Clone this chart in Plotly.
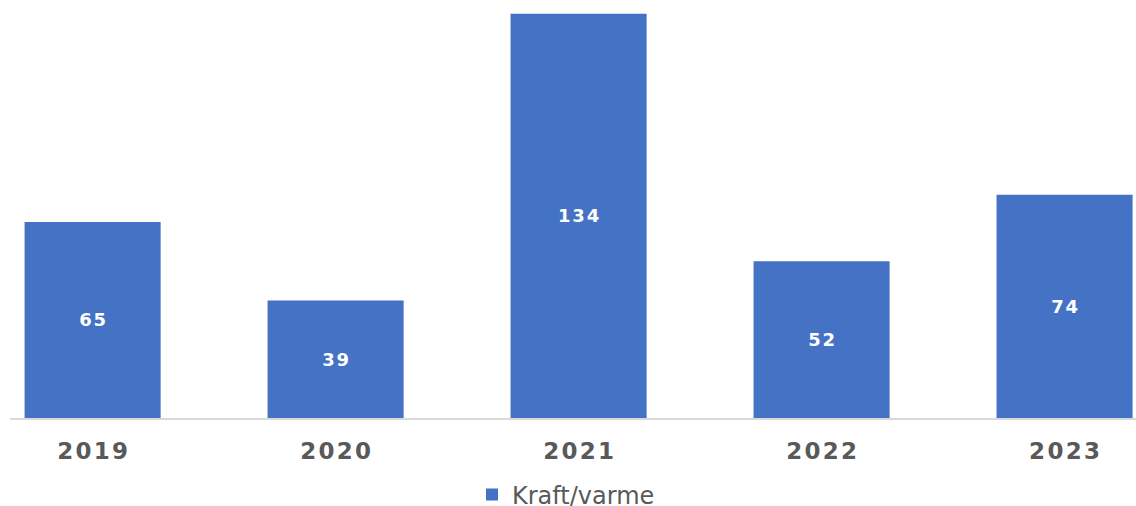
import plotly.graph_objects as go

years = ["2019", "2020", "2021", "2022", "2023"]
values = [65, 39, 134, 52, 74]
series_name = "Kraft/varme"

tick_text = ["\u200a".join(y) for y in years]
bar_text = ["\u200a".join(str(v)) for v in values]

fig = go.Figure()
fig.add_trace(go.Bar(
    x=years, y=values, name=series_name,
    marker=dict(color="#4472C4", line=dict(width=0)),
    width=0.56,
    text=bar_text,
    textposition="inside", insidetextanchor="middle",
    textfont=dict(family="DejaVu Sans", size=18, color="white", weight="bold"),
    showlegend=True,
))

fig.update_layout(
    width=1136, height=506,
    margin=dict(l=10, r=0, t=0, b=88, autoexpand=False),
    paper_bgcolor="white", plot_bgcolor="white",
    showlegend=True,
    legend=dict(orientation="h", xref="container", yref="container",
                x=472 / 1136, xanchor="left", y=(506 - 495) / 506, yanchor="middle",
                font=dict(family="DejaVu Sans", size=24, color="#595959")),
    xaxis=dict(type="category", range=[-0.34, 4.294],
               tickmode="array", tickvals=years, ticktext=tick_text,
               tickfont=dict(family="DejaVu Sans", size=23, color="#595959", weight="bold"),
               showline=True, linecolor="#d9d9d9", linewidth=2,
               ticks="", ticklabelstandoff=11, showgrid=False),
    yaxis=dict(range=[0, 138.6], visible=False, showgrid=False, zeroline=False),
    uniformtext=dict(minsize=8, mode="show"),
)

fig.write_html("out.html")
